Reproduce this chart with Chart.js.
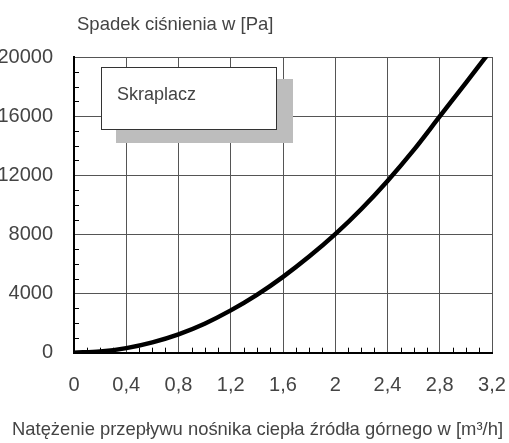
<!DOCTYPE html>
<html><head><meta charset="utf-8">
<script src="https://cdn.jsdelivr.net/npm/chart.js@4/dist/chart.umd.min.js"></script>
<style>html,body{margin:0;padding:0;background:#fff;overflow:hidden;}</style>
</head><body>
<canvas id="c" width="509" height="443"></canvas>
<script>
// ---- data ----
const flowRates    = [0, 0.2, 0.4, 0.6, 0.8, 1.0, 1.2, 1.4, 1.6, 1.8, 2.0, 2.2, 2.4, 2.6, 2.8, 3.0, 3.2];
const pressureDrop = [0, 80, 310, 700, 1240, 1960, 2860, 3910, 5130, 6500, 8020, 9720, 11620, 13700, 15980, 18250, 20550];
const xTickValues  = [0, 0.4, 0.8, 1.2, 1.6, 2.0, 2.4, 2.8, 3.2];
const yTickValues  = [0, 4000, 8000, 12000, 16000, 20000];
const xMinorValues = [0.1,0.2,0.3,0.5,0.6,0.7,0.9,1.0,1.1,1.3,1.4,1.5,1.7,1.8,1.9,2.1,2.2,2.3,2.5,2.6,2.7,2.9,3.0,3.1];
const yMinorValues = [1000,2000,3000,5000,6000,7000,9000,10000,11000,13000,14000,15000,17000,18000,19000];
const seriesName = 'Skraplacz';
const yTitle = 'Spadek ciśnienia w [Pa]';
const xTitle = 'Natężenie przepływu nośnika ciepła źródła górnego w [m³/h]';

const FONT = '"Liberation Sans", Arial, Helvetica, sans-serif';
const TEXT = '#444';

const decorPlugin = {
  id: 'decor',
  afterLayout(chart) {
    // widen / recentre the bottom axis title across the canvas
    chart.boxes.forEach(b => {
      if (b.options && b.options.text === xTitle) { b.left = 12; b.right = chart.width - 6; b.width = b.right - b.left; }
      if (b.options && b.options.text === yTitle) { b.left += 3; b.right += 3; }
    });
  },
  beforeDatasetsDraw(chart) {
    const ctx = chart.ctx, ca = chart.chartArea;
    const xs = chart.scales.x, ys = chart.scales.y;
    ctx.save();
    // minor ticks (inside the plot)
    ctx.strokeStyle = '#000';
    ctx.lineWidth = 1;
    ctx.beginPath();
    yMinorValues.forEach(v => {
      const p = Math.round(ys.getPixelForValue(v)) + 0.5;
      ctx.moveTo(ca.left, p); ctx.lineTo(ca.left + 5, p);
    });
    xMinorValues.forEach(v => {
      const p = Math.round(xs.getPixelForValue(v)) + 0.5;
      ctx.moveTo(p, ca.bottom); ctx.lineTo(p, ca.bottom - 5);
    });
    ctx.stroke();
    // legend box with shadow
    const bx = ca.left + 27, by = ca.top + 10, bw = 175, bh = 62;
    ctx.fillStyle = '#bdbdbd';
    ctx.fillRect(bx + 15, by + 12, bw + 2, bh + 2);
    ctx.fillStyle = '#fff';
    ctx.fillRect(bx, by, bw, bh);
    ctx.strokeStyle = '#333';
    ctx.lineWidth = 1;
    ctx.strokeRect(Math.round(bx) + 0.5, Math.round(by) + 0.5, bw, bh);
    ctx.fillStyle = TEXT;
    ctx.font = '18px ' + FONT;
    ctx.textBaseline = 'middle';
    ctx.textAlign = 'left';
    ctx.fillText(chart.data.datasets[0].label, bx + 16, by + 28);
    ctx.restore();
  }
};

function fmt(v) {
  return String(Number(Number(v).toFixed(1))).replace('.', ',');
}

new Chart(document.getElementById('c'), {
  type: 'line',
  data: {
    labels: flowRates,
    datasets: [{
      label: seriesName,
      data: flowRates.map((x, i) => ({x: x, y: pressureDrop[i]})),
      borderColor: '#000',
      borderWidth: 4.5,
      pointRadius: 0,
      fill: false,
      cubicInterpolationMode: 'monotone'
    }]
  },
  options: {
    responsive: false,
    devicePixelRatio: 1,
    animation: false,
    layout: { padding: { left: 0, right: 17, top: 0, bottom: 0 } },
    plugins: {
      legend: { display: false },
      tooltip: { enabled: false },
      title: {
        display: true, text: yTitle, align: 'start', fullSize: false,
        color: TEXT, font: { family: FONT, size: 18.5, weight: 'normal' },
        padding: { top: 14, bottom: 20.8 }
      },
      subtitle: {
        display: true, text: xTitle, position: 'bottom', align: 'center',
        color: TEXT, font: { family: FONT, size: 18.6, weight: 'normal' },
        padding: { top: 20, bottom: 2 }
      }
    },
    scales: {
      x: {
        type: 'linear', min: 0, max: 3.2,
        afterBuildTicks: s => { s.ticks = xTickValues.map(v => ({value: v})); },
        afterFit: s => { s.height = 46; s.paddingLeft = 0; s.paddingRight = 0; },
        ticks: { color: TEXT, font: { family: FONT, size: 20 }, padding: 21, maxRotation: 0, autoSkip: false, callback: v => fmt(v) },
        grid: { color: '#555', lineWidth: 1, drawTicks: false },
        border: { color: '#000', width: 2 }
      },
      y: {
        min: 0, max: 20000,
        afterBuildTicks: s => { s.ticks = yTickValues.map(v => ({value: v})); },
        afterFit: s => { s.width = 74; s.paddingTop = 0; s.paddingBottom = 0; },
        ticks: { color: TEXT, font: { family: FONT, size: 20 }, padding: 21, autoSkip: false, callback: v => String(v) },
        grid: { color: '#555', lineWidth: 1, drawTicks: false },
        border: { color: '#000', width: 2 }
      }
    }
  },
  plugins: [decorPlugin]
});
</script>
</body></html>
